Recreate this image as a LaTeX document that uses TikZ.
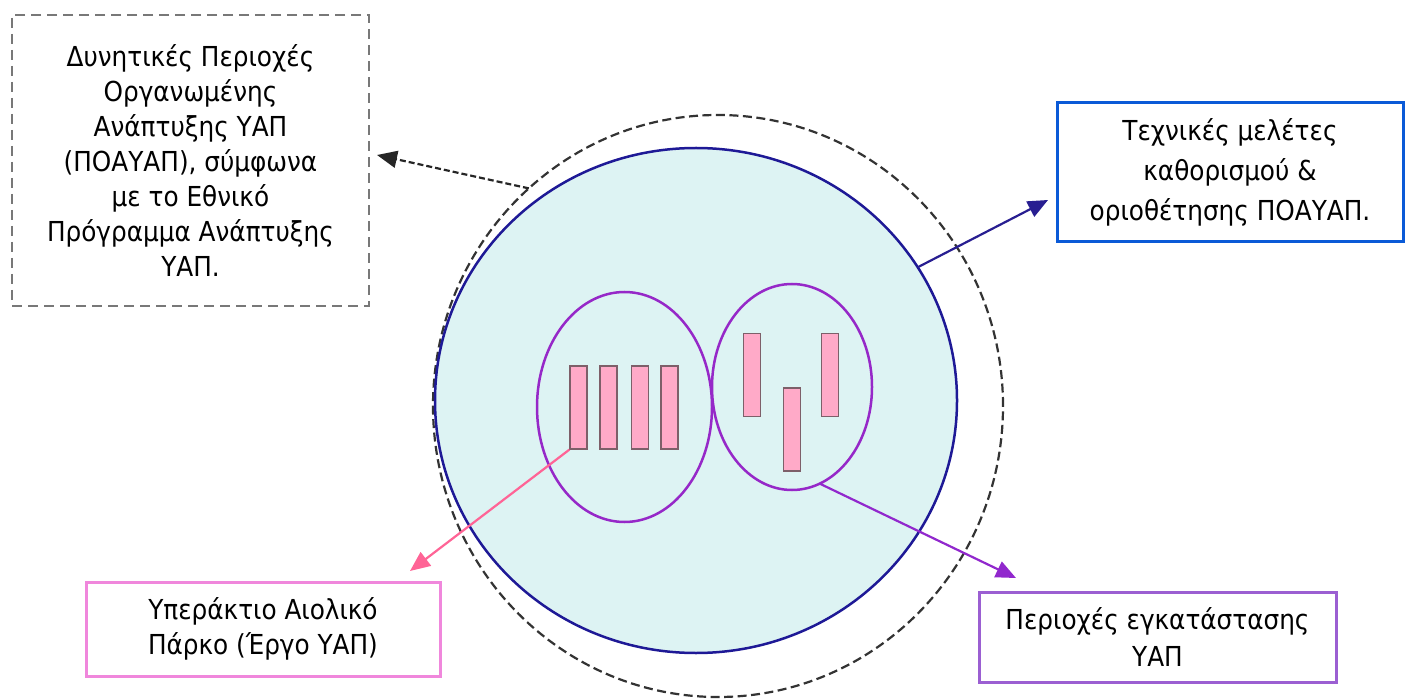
\documentclass[tikz,border=0pt]{standalone}
\usepackage{fontspec}
\setmainfont{DejaVu Sans Condensed}
\usetikzlibrary{arrows.meta,shapes.geometric}

\definecolor{zonefill}{RGB}{221,243,243}
\definecolor{zoneline}{RGB}{30,25,150}
\definecolor{siteline}{RGB}{150,40,200}
\definecolor{turbfill}{RGB}{255,170,200}
\definecolor{turbline}{RGB}{125,95,105}
\definecolor{pinkarrow}{RGB}{255,100,150}
\definecolor{purplearrow}{RGB}{145,40,205}
\definecolor{navyarrow}{RGB}{40,30,145}
\definecolor{greybox}{RGB}{120,120,120}
\definecolor{bluebox}{RGB}{10,90,215}
\definecolor{pinkbox}{RGB}{240,135,220}
\definecolor{violetbox}{RGB}{155,95,210}

\tikzset{
  label/.style={font=\fontsize{27.5}{35}\selectfont, align=center, inner sep=0pt},
  infobox/.style={draw, line width=3pt, rectangle, inner sep=0pt, fill=white},
  ring/.style={ellipse, inner sep=0pt, outer sep=0pt},
  turbine/.style={rectangle, draw=turbline, fill=turbfill, line width=1.3pt,
    minimum width=17pt, minimum height=83pt, inner sep=0pt},
  conn/.style={line width=2.2pt, -{Triangle[length=20pt,width=17pt]}},
}

\begin{document}
\begin{tikzpicture}[x=1pt,y=-1pt]
\useasboundingbox (0,0) rectangle (1405,700);

% outer boundary of potential areas and the planned zone
\node[ring, draw=black!80, line width=2.2pt, dash pattern=on 9pt off 4.5pt,
  minimum width=570pt, minimum height=582pt] (outer) at (718,406) {};
\node[ring, draw=zoneline, fill=zonefill, line width=2.5pt,
  minimum width=522pt, minimum height=505pt] (zone) at (696,400.5) {};

% installation sites
\node[ring, draw=siteline, line width=2.5pt,
  minimum width=175pt, minimum height=230pt] (siteA) at (624.5,407) {};
\node[ring, draw=siteline, line width=2.5pt,
  minimum width=160pt, minimum height=206pt] (siteB) at (792,387) {};

% turbines
\node[turbine] (t1) at (578.5,407.5) {};
\node[turbine] (t2) at (608.5,407.5) {};
\node[turbine] (t3) at (640,407.5) {};
\node[turbine] (t4) at (669.5,407.5) {};
\node[turbine] (t5) at (752,375) {};
\node[turbine] (t6) at (792,429.5) {};
\node[turbine] (t7) at (830,375) {};

% description boxes
\node[infobox, draw=greybox, dash pattern=on 10pt off 6pt, line width=2.5pt,
  minimum width=357pt, minimum height=291pt] (potential) at (190.5,160.5) {};
\node[label] at (potential.center) {Δυνητικές Περιοχές\\Οργανωμένης\\Ανάπτυξης ΥΑΠ\\(ΠΟΑΥΑΠ), σύμφωνα\\με το Εθνικό\\Πρόγραμμα Ανάπτυξης\\ΥΑΠ.};

\node[infobox, draw=bluebox, minimum width=346pt, minimum height=139pt,
  label, font=\fontsize{27.5}{40}\selectfont] (studies) at (1230,172.5)
  {Τεχνικές μελέτες\\καθορισμού \&\\οριοθέτησης ΠΟΑΥΑΠ.};

\node[infobox, draw=pinkbox, minimum width=354pt, minimum height=94pt,
  label] (park) at (263,629)
  {Υπεράκτιο Αιολικό\\Πάρκο (Έργο ΥΑΠ)};

\node[infobox, draw=violetbox, minimum width=357pt, minimum height=90pt,
  label, font=\fontsize{27.5}{37}\selectfont] (sites) at (1157.5,637)
  {Περιοχές εγκατάστασης\\ΥΑΠ};

% arrow ends next to the boxes
\coordinate (potentialTip) at (377,155);
\coordinate (studiesTip) at (1048,200);
\coordinate (parkTip) at (410,571);
\coordinate (sitesTip) at (1016,578);

% connectors
\draw[conn, black!85, dash pattern=on 6pt off 3pt] (outer.131.2) -- (potentialTip);
\draw[conn, navyarrow] (zone.31.2) -- (studiesTip);
\draw[conn, pinkarrow] (t1.south west) -- (parkTip);
\draw[conn, purplearrow] (siteB.-74) -- (sitesTip);
\end{tikzpicture}
\end{document}
